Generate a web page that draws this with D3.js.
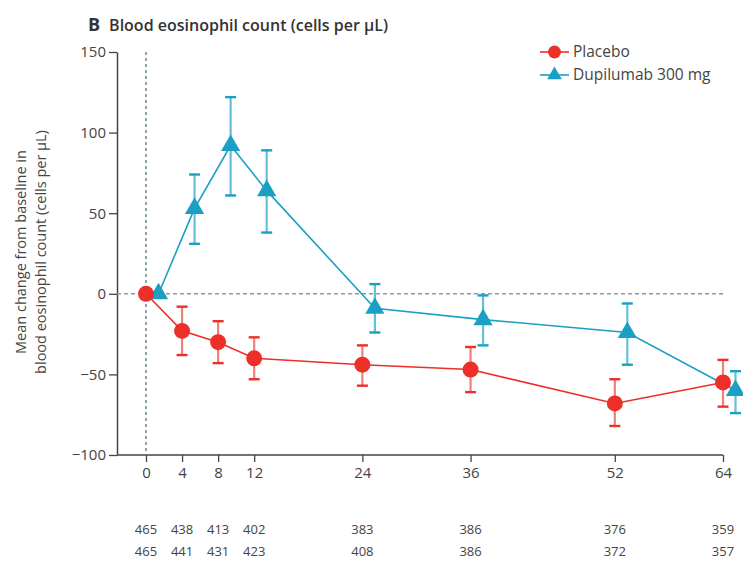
<!DOCTYPE html>
<html>
<head>
<meta charset="utf-8">
<script src="https://cdn.jsdelivr.net/npm/d3@7"></script>
<style>
  html, body { margin: 0; padding: 0; background: #fff; }
  svg { display: block; font-family: "Open Sans", "Noto Sans", sans-serif; }
</style>
</head>
<body>
<svg id="chart" width="743" height="562"></svg>
<script>
// Weeks of assessment
const weeks = [0, 4, 8, 12, 24, 36, 52, 64];

// Placebo: mean change and error-bar limits (cells per µL)
const placeboMean = [0, -23, -30, -40, -44, -47, -68, -55];
const placeboLow  = [null, -38, -43, -53, -57, -61, -82, -70];
const placeboHigh = [null, -8, -17, -27, -32, -33, -53, -41];

// Dupilumab 300 mg: mean change and error-bar limits
const dupiMean = [0, 53, 92, 64, -9, -16, -24, -60];
const dupiLow  = [null, 31, 61, 38, -24, -32, -44, -74];
const dupiHigh = [null, 74, 122, 89, 6, -1, -6, -48];

// Numbers at risk
const nPlacebo = [465, 438, 413, 402, 383, 386, 376, 359];
const nDupi    = [465, 441, 431, 423, 408, 386, 372, 357];

const yTicks = [-100, -50, 0, 50, 100, 150];

const svg = d3.select("#chart");
const red = "#ec2f28", blue = "#1c9fc4";
const axisColor = "#444";

const x = d3.scaleLinear().domain([0, 64]).range([146, 723]);
const y = d3.scaleLinear().domain([-100, 150]).range([455, 52]);
const axisX0 = 117;
const dodge = 12.5; // horizontal offset of the dupilumab series

// Title
const title = svg.append("text").attr("x", 88).attr("y", 31).attr("fill", "#333");
title.append("tspan").attr("font-weight", 700).attr("font-size", 18).text("B");
title.append("tspan").attr("dx", 9).attr("font-weight", 600).attr("font-size", 16)
  .text("Blood eosinophil count (cells per µL)");

// Y axis
const yAxis = svg.append("g").attr("transform", `translate(${axisX0},0)`)
  .call(d3.axisLeft(y).tickValues(yTicks).tickSize(8).tickSizeOuter(0).tickPadding(3));
yAxis.select(".domain").attr("stroke", axisColor).attr("stroke-width", 1.5);
yAxis.selectAll(".tick line").attr("stroke", axisColor).attr("stroke-width", 1.3);
yAxis.selectAll(".tick text").attr("font-size", 15).attr("fill", "#444")
  .attr("font-family", "Open Sans, sans-serif");

// X axis
const xAxisG = svg.append("g").attr("transform", `translate(0,${y(-100)})`);
xAxisG.append("line").attr("x1", axisX0).attr("x2", x(64))
  .attr("stroke", axisColor).attr("stroke-width", 1.5);
const xAxis = xAxisG.append("g")
  .call(d3.axisBottom(x).tickValues(weeks).tickSize(7).tickSizeOuter(0).tickPadding(5));
xAxis.select(".domain").remove();
xAxis.selectAll(".tick line").attr("stroke", axisColor).attr("stroke-width", 1.3);
xAxis.selectAll(".tick text").attr("font-size", 15).attr("fill", "#444")
  .attr("font-family", "Open Sans, sans-serif");

// Reference lines
svg.append("line").attr("x1", x(0)).attr("x2", x(0)).attr("y1", y(150)).attr("y2", y(-100))
  .attr("stroke", "#6b8494").attr("stroke-width", 1.5).attr("stroke-dasharray", "3,3");
svg.append("line").attr("x1", axisX0).attr("x2", x(64)).attr("y1", y(0)).attr("y2", y(0))
  .attr("stroke", "#8e979d").attr("stroke-width", 1.5).attr("stroke-dasharray", "4,3");

// Y axis label
const yl = svg.append("text").attr("transform", "translate(0,252) rotate(-90)")
  .attr("text-anchor", "middle").attr("font-size", 14.5).attr("fill", "#444");
yl.append("tspan").attr("x", 0).attr("y", 26).text("Mean change from baseline in");
yl.append("tspan").attr("x", 0).attr("y", 46).text("blood eosinophil count (cells per µL)");

// Series drawing helper
function drawSeries(mean, low, high, color, light, offset, shape) {
  const pts = weeks.map((w, i) => ({ cx: x(w) + offset, m: mean[i], lo: low[i], hi: high[i] }));
  const g = svg.append("g");
  g.append("path")
    .attr("d", d3.line().x(d => d.cx).y(d => y(d.m))(pts))
    .attr("fill", "none").attr("stroke", color).attr("stroke-width", 1.6);
  const eb = g.selectAll(".eb").data(pts.filter(d => d.lo !== null)).enter().append("g");
  eb.append("line").attr("x1", d => d.cx).attr("x2", d => d.cx)
    .attr("y1", d => y(d.lo)).attr("y2", d => y(d.hi))
    .attr("stroke", light).attr("stroke-width", 2.2);
  [d => d.lo, d => d.hi].forEach(acc => {
    eb.append("line").attr("x1", d => d.cx - 5.5).attr("x2", d => d.cx + 5.5)
      .attr("y1", d => y(acc(d))).attr("y2", d => y(acc(d)))
      .attr("stroke", color).attr("stroke-width", 2.4);
  });
  g.selectAll(".mk").data(pts).enter().append("path")
    .attr("transform", d => `translate(${d.cx},${y(d.m)})`)
    .attr("d", d3.symbol().type(shape).size(shape === d3.symbolCircle ? 200 : 160))
    .attr("fill", color);
}

drawSeries(dupiMean, dupiLow, dupiHigh, blue, "#63c0da", dodge, d3.symbolTriangle);
drawSeries(placeboMean, placeboLow, placeboHigh, red, "#f27f7a", 0, d3.symbolCircle);

// Legend
const legend = [
  { label: "Placebo", color: red, shape: d3.symbolCircle, size: 130, y: 52 },
  { label: "Dupilumab 300 mg", color: blue, shape: d3.symbolTriangle, size: 95, y: 75 }
];
const lg = svg.append("g");
legend.forEach(d => {
  lg.append("line").attr("x1", 540).attr("x2", 569).attr("y1", d.y).attr("y2", d.y)
    .attr("stroke", d.color).attr("stroke-width", 1.6);
  lg.append("path").attr("transform", `translate(554.5,${d.y})`)
    .attr("d", d3.symbol().type(d.shape).size(d.size)).attr("fill", d.color);
  lg.append("text").attr("x", 573).attr("y", d.y).attr("dy", "0.35em")
    .attr("font-size", 15.5).attr("fill", "#444").text(d.label);
});

// Numbers at risk
[[nPlacebo, 529], [nDupi, 551]].forEach(([vals, yy]) => {
  svg.append("g").selectAll("text").data(vals).enter().append("text")
    .attr("x", (d, i) => x(weeks[i])).attr("y", yy).attr("dy", "0.35em")
    .attr("text-anchor", "middle").attr("font-size", 13).attr("fill", "#444")
    .text(d => d);
});
</script>
</body>
</html>
